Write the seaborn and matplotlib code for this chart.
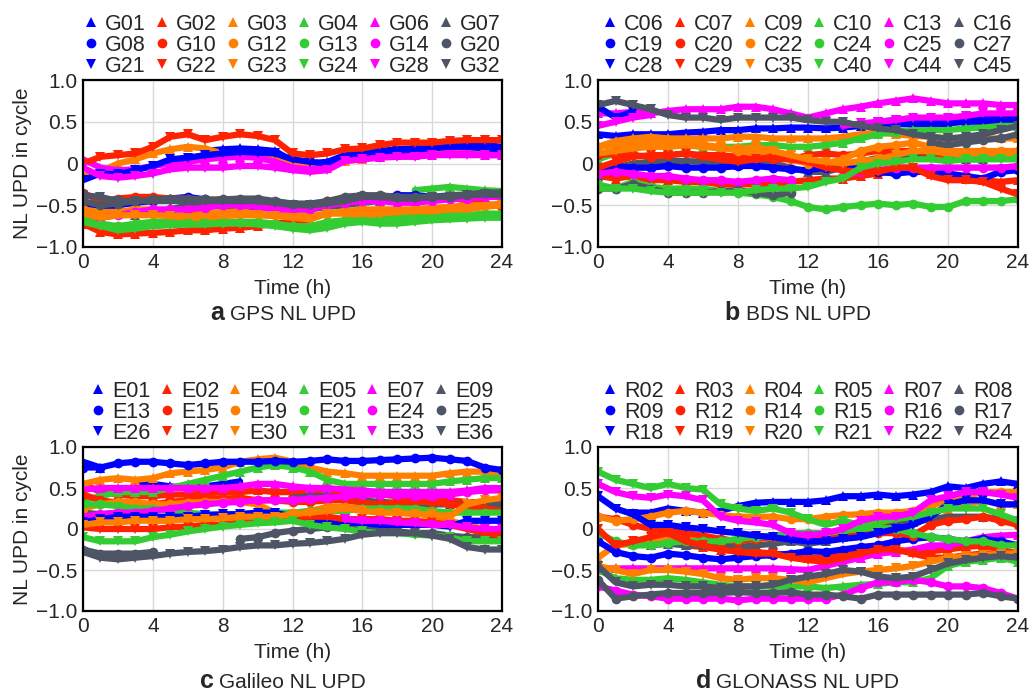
import numpy as np
import pandas as pd
import matplotlib
matplotlib.use("Agg")
import matplotlib.pyplot as plt
from matplotlib.lines import Line2D
import seaborn as sns

# ---------------------------------------------------------------
# DATA (hourly NL UPD values in cycles)
# ---------------------------------------------------------------
nan = np.nan
hours = list(range(25))

# GPS
G01 = [nan, nan, nan, nan, nan, nan, nan, 0.15, 0.17, 0.18, 0.17, 0.15, 0.03, 0.0, 0.02, 0.10, 0.12, 0.15, 0.17, 0.18, 0.18, 0.20, 0.22, 0.22, 0.20]
G02 = [-0.72, -0.82, -0.85, -0.84, -0.83, -0.82, -0.80, -0.80, -0.78, -0.77, -0.75, -0.72, -0.70, -0.70, nan, nan, nan, nan, nan, nan, nan, nan, nan, nan, nan]
G03 = [-0.15, -0.10, 0.0, 0.05, 0.12, 0.17, 0.20, 0.18, 0.12, 0.12, 0.10, 0.05, 0.0, -0.02, 0.0, 0.03, 0.05, 0.08, 0.10, 0.12, 0.12, 0.13, 0.15, 0.15, 0.15]
G04 = [nan, nan, nan, nan, nan, nan, nan, nan, nan, nan, nan, nan, nan, nan, nan, nan, nan, nan, nan, -0.32, -0.30, -0.28, -0.30, -0.32, -0.33]
G06 = [0.05, -0.05, -0.08, -0.07, -0.03, 0.0, 0.02, 0.05, 0.07, 0.08, 0.07, 0.02, -0.05, -0.07, -0.05, 0.05, 0.07, 0.08, 0.10, 0.10, 0.10, 0.12, 0.12, 0.10, 0.10]
G07 = [-0.50, -0.55, -0.60, -0.62, -0.58, -0.55, -0.50, -0.50, -0.50, -0.48, -0.50, -0.52, -0.55, -0.55, -0.52, -0.50, -0.47, -0.45, -0.42, -0.40, -0.40, -0.38, -0.37, -0.35, -0.35]
G08 = [-0.45, -0.55, -0.50, -0.47, -0.45, -0.42, -0.40, -0.43, -0.50, -0.52, -0.55, nan, nan, nan, nan, nan, nan, -0.42, -0.38, -0.38, -0.40, -0.40, nan, nan, nan]
G10 = [-0.35, -0.45, -0.42, -0.40, -0.40, -0.42, -0.42, -0.45, -0.45, -0.45, -0.47, -0.48, -0.50, -0.50, -0.45, -0.43, -0.42, -0.42, -0.45, -0.45, -0.42, -0.40, -0.45, -0.48, -0.52]
G12 = [-0.55, -0.58, -0.58, -0.55, -0.55, -0.57, -0.60, -0.60, -0.58, -0.57, -0.60, -0.62, -0.62, -0.63, -0.60, -0.57, -0.55, -0.55, -0.55, -0.55, -0.53, -0.52, -0.50, -0.50, -0.48]
G13 = [-0.65, -0.72, -0.75, -0.72, -0.70, -0.70, -0.70, -0.70, -0.70, -0.70, -0.70, -0.72, -0.75, -0.75, -0.70, -0.68, -0.67, -0.65, -0.65, -0.63, -0.62, -0.60, -0.62, -0.60, -0.60]
G14 = [-0.60, -0.65, -0.62, -0.58, -0.55, -0.55, -0.55, -0.53, -0.50, -0.50, -0.52, -0.55, -0.55, -0.55, -0.50, -0.47, -0.45, -0.45, -0.47, -0.47, -0.45, -0.43, -0.42, -0.40, -0.40]
G20 = [-0.45, -0.50, -0.48, -0.45, -0.43, -0.42, -0.42, -0.43, -0.43, -0.42, -0.42, -0.45, -0.48, -0.48, -0.45, -0.40, -0.38, -0.38, -0.40, -0.40, -0.40, -0.40, -0.38, -0.35, -0.35]
G21 = [-0.20, -0.12, -0.13, -0.08, -0.03, 0.05, 0.07, 0.10, 0.12, 0.14, 0.13, 0.12, 0.05, 0.02, 0.0, 0.10, 0.12, 0.14, 0.15, 0.17, 0.18, 0.20, 0.20, 0.18, 0.17]
G22 = [0.0, 0.08, 0.10, 0.12, 0.20, 0.32, 0.35, 0.28, 0.32, 0.35, 0.33, 0.28, 0.12, 0.10, 0.12, 0.17, 0.18, 0.22, 0.25, 0.25, 0.25, 0.27, 0.28, 0.28, 0.28]
G23 = [-0.60, -0.65, -0.62, -0.62, -0.62, -0.63, -0.65, -0.65, -0.63, -0.62, -0.62, -0.63, -0.65, -0.67, -0.60, -0.60, -0.62, -0.60, -0.58, -0.57, -0.57, -0.55, -0.55, -0.52, -0.50]
G24 = [-0.70, -0.75, -0.80, -0.78, -0.75, -0.74, -0.73, -0.73, -0.72, -0.72, -0.73, -0.75, -0.78, -0.80, -0.77, -0.72, -0.70, -0.72, -0.72, -0.70, -0.68, -0.67, -0.66, -0.65, -0.65]
G28 = [-0.05, -0.15, -0.17, -0.15, -0.12, -0.07, -0.05, -0.05, -0.05, -0.03, -0.03, -0.05, -0.08, -0.10, -0.08, 0.03, 0.05, 0.07, 0.08, 0.08, 0.10, 0.10, 0.10, 0.10, 0.10]
G32 = [-0.38, -0.40, -0.45, -0.45, -0.45, -0.45, -0.45, -0.45, -0.45, -0.45, -0.45, -0.47, -0.50, -0.50, -0.48, -0.45, -0.40, -0.40, -0.42, -0.42, -0.40, -0.40, -0.38, -0.37, -0.38]

# BDS
C06 = [0.35, 0.33, 0.35, 0.35, 0.35, 0.37, 0.38, 0.40, 0.40, 0.42, 0.42, 0.43, 0.43, 0.42, 0.43, 0.45, 0.45, 0.47, 0.47, 0.45, 0.48, 0.50, 0.50, 0.50, 0.52]
C07 = [-0.15, -0.18, -0.15, -0.20, -0.20, -0.22, -0.22, -0.25, -0.25, -0.25, -0.25, -0.22, -0.20, -0.18, -0.18, -0.15, -0.12, -0.10, -0.08, -0.12, -0.15, -0.18, -0.20, -0.22, -0.20]
C09 = [0.20, 0.27, 0.30, 0.32, 0.30, 0.30, 0.30, 0.30, 0.32, 0.32, 0.30, 0.30, 0.30, 0.30, 0.32, 0.35, 0.37, 0.35, 0.33, 0.32, 0.30, 0.30, 0.30, 0.30, 0.30]
C10 = [0.05, 0.12, 0.20, 0.22, 0.20, 0.22, 0.20, 0.20, 0.20, 0.22, 0.22, 0.20, 0.20, 0.22, 0.25, 0.30, 0.35, 0.38, 0.40, 0.40, 0.40, 0.42, 0.43, 0.45, 0.45]
C13 = [0.60, 0.60, 0.62, 0.60, 0.63, 0.65, 0.65, 0.65, 0.68, 0.68, 0.65, 0.60, 0.55, 0.60, 0.65, 0.68, 0.72, 0.75, 0.78, 0.75, 0.72, 0.72, 0.72, 0.70, 0.70]
C16 = [-0.15, -0.05, 0.0, 0.02, 0.03, 0.03, 0.02, 0.0, -0.02, 0.0, 0.0, -0.05, -0.10, -0.10, -0.05, 0.02, 0.07, 0.10, 0.10, 0.08, 0.05, 0.05, 0.05, 0.08, 0.10]
C19 = [-0.05, -0.03, -0.05, -0.05, -0.03, -0.05, -0.05, -0.05, -0.03, -0.03, -0.05, -0.07, -0.08, -0.05, -0.05, -0.07, -0.10, -0.12, -0.10, -0.10, -0.12, -0.15, -0.18, -0.10, -0.08]
C20 = [0.10, 0.12, 0.10, 0.08, 0.10, 0.12, 0.10, 0.10, 0.08, 0.07, 0.05, 0.05, 0.10, 0.12, 0.10, 0.12, 0.15, 0.15, 0.15, 0.12, 0.10, 0.10, 0.10, 0.08, 0.10]
C22 = [0.20, 0.22, 0.25, 0.27, 0.27, 0.25, 0.22, 0.20, 0.15, 0.12, 0.10, 0.05, 0.0, 0.0, 0.05, 0.15, 0.20, 0.22, 0.25, 0.20, 0.15, 0.15, 0.15, 0.15, 0.15]
C24 = [-0.25, -0.30, -0.22, -0.28, -0.30, -0.30, -0.30, -0.33, -0.35, -0.37, -0.40, -0.45, -0.52, -0.55, -0.52, -0.50, -0.48, -0.50, -0.48, -0.52, -0.52, -0.45, -0.45, -0.45, -0.43]
C25 = [-0.12, -0.10, -0.12, -0.15, -0.15, -0.18, -0.20, -0.20, -0.22, -0.20, -0.18, -0.20, nan, nan, -0.15, -0.10, -0.08, -0.05, -0.05, -0.05, -0.05, -0.05, -0.05, -0.05, -0.03]
C27 = [-0.30, -0.30, -0.25, -0.30, -0.35, -0.35, -0.35, -0.33, -0.32, -0.35, -0.38, -0.35, nan, nan, nan, nan, nan, nan, nan, 0.25, 0.22, 0.25, 0.28, 0.30, 0.35]
C28 = [0.68, 0.55, 0.62, nan, nan, nan, nan, nan, nan, nan, nan, nan, nan, nan, nan, nan, 0.50, 0.52, 0.52, 0.50, 0.52, 0.55, 0.55, 0.57, 0.58]
C29 = [-0.05, 0.02, 0.08, 0.10, 0.10, 0.12, 0.08, 0.05, 0.02, 0.05, 0.08, 0.05, 0.02, -0.05, -0.08, -0.10, -0.10, -0.05, -0.05, -0.15, -0.20, -0.20, -0.22, -0.30, -0.37]
C35 = [0.12, 0.15, 0.18, 0.20, 0.20, 0.22, 0.20, 0.18, 0.17, 0.20, 0.15, 0.10, 0.05, 0.02, 0.0, 0.03, 0.05, 0.10, 0.15, 0.15, 0.12, 0.10, 0.10, 0.10, 0.12]
C40 = [-0.30, -0.30, -0.30, -0.33, -0.35, -0.35, -0.35, -0.35, -0.35, -0.32, -0.30, -0.30, -0.28, -0.22, -0.18, -0.05, 0.0, 0.02, 0.05, 0.05, 0.03, 0.05, 0.05, 0.05, 0.05]
C44 = [0.45, 0.50, 0.55, 0.58, nan, nan, nan, nan, nan, nan, nan, nan, nan, nan, 0.45, 0.48, 0.50, 0.52, 0.55, 0.55, 0.55, 0.57, 0.60, 0.60, 0.60]
C45 = [0.70, 0.75, 0.70, 0.65, 0.58, 0.55, 0.55, 0.52, 0.55, 0.55, 0.55, 0.55, 0.52, 0.50, 0.50, 0.45, 0.42, 0.40, 0.35, 0.32, 0.30, 0.32, 0.35, 0.40, 0.45]

# Galileo
E01 = [0.82, 0.75, nan, 0.55, 0.55, 0.52, 0.50, 0.52, 0.55, 0.58, nan, nan, nan, nan, nan, nan, nan, nan, nan, nan, nan, nan, nan, nan, nan]
E02 = [0.55, 0.45, 0.42, 0.40, 0.40, 0.42, 0.42, 0.43, 0.45, 0.45, 0.47, 0.45, 0.45, 0.45, 0.43, 0.42, 0.42, 0.42, 0.40, 0.38, 0.37, 0.35, 0.33, 0.32, 0.30]
E04 = [0.55, 0.60, 0.62, 0.60, 0.62, 0.68, 0.70, 0.72, 0.75, 0.82, 0.85, 0.87, 0.82, 0.75, 0.70, 0.68, 0.65, 0.65, 0.65, 0.65, 0.65, 0.68, 0.70, 0.70, 0.68]
E05 = [0.35, 0.40, 0.45, 0.45, 0.45, 0.50, 0.55, 0.60, 0.65, 0.70, 0.75, 0.78, 0.75, 0.70, 0.60, 0.55, 0.55, 0.55, 0.55, 0.55, 0.55, 0.58, 0.60, 0.62, 0.62]
E07 = [0.48, 0.50, 0.50, 0.50, 0.50, 0.50, 0.50, 0.50, 0.50, 0.52, 0.55, 0.55, 0.52, 0.50, 0.50, 0.48, 0.47, 0.45, 0.45, 0.45, 0.45, 0.45, 0.47, 0.50, 0.50]
E09 = [0.20, 0.18, 0.20, 0.20, 0.22, nan, nan, nan, nan, nan, nan, nan, 0.38, 0.40, 0.40, 0.38, 0.35, 0.33, 0.32, 0.30, 0.30, 0.30, 0.30, 0.30, 0.30]
E13 = [0.75, 0.75, 0.80, 0.82, 0.82, 0.80, 0.78, 0.80, 0.82, 0.82, 0.82, 0.83, 0.82, 0.83, 0.85, 0.83, 0.83, 0.84, 0.85, 0.86, 0.87, 0.85, 0.83, 0.75, 0.72]
E15 = [0.42, 0.35, 0.32, 0.30, 0.30, 0.33, 0.35, 0.37, 0.37, 0.38, 0.35, 0.35, 0.33, 0.33, 0.35, 0.35, 0.32, 0.30, 0.32, 0.33, 0.33, 0.30, 0.28, 0.25, 0.22]
E19 = [0.25, 0.30, 0.33, 0.33, 0.30, 0.30, 0.32, 0.33, 0.33, 0.33, 0.30, 0.20, 0.18, 0.22, 0.27, 0.27, 0.25, 0.22, 0.20, 0.20, 0.15, 0.10, 0.05, 0.0, -0.02]
E21 = [0.30, 0.30, 0.28, 0.25, 0.25, 0.22, 0.20, 0.18, 0.17, 0.18, 0.20, 0.20, 0.20, 0.22, 0.22, 0.22, 0.25, 0.25, 0.25, 0.25, 0.22, 0.20, 0.20, 0.20, 0.20]
E24 = [0.15, 0.18, 0.20, 0.20, 0.22, 0.25, 0.28, 0.30, 0.32, 0.33, 0.35, 0.35, 0.35, 0.37, 0.38, 0.40, 0.42, 0.42, 0.42, 0.40, 0.40, 0.42, 0.45, 0.47, 0.47]
E25 = [-0.25, -0.30, -0.30, -0.30, -0.28, nan, nan, nan, nan, -0.12, -0.10, -0.05, -0.02, 0.0, 0.02, 0.03, 0.0, -0.02, -0.03, -0.05, -0.05, -0.08, -0.10, -0.10, -0.10]
E26 = [0.08, 0.12, 0.15, 0.15, 0.15, 0.15, 0.15, 0.17, 0.18, 0.18, 0.20, 0.20, 0.15, 0.10, 0.08, 0.08, 0.07, 0.05, 0.05, 0.05, 0.05, 0.03, 0.10, 0.10, 0.10]
E27 = [0.02, 0.0, 0.0, 0.0, 0.0, 0.02, 0.03, 0.05, 0.05, 0.08, 0.10, 0.10, 0.12, 0.15, 0.15, 0.12, 0.12, 0.12, 0.10, 0.10, 0.08, 0.05, 0.0, -0.05, -0.08]
E30 = [0.05, 0.08, 0.08, 0.10, 0.10, 0.10, 0.12, 0.12, 0.13, 0.15, 0.15, 0.15, 0.18, 0.20, 0.22, 0.25, 0.22, 0.20, 0.20, 0.18, 0.18, 0.15, 0.30, 0.35, 0.38]
E31 = [-0.10, -0.15, -0.15, -0.15, -0.10, -0.07, -0.03, 0.0, 0.03, 0.05, 0.07, 0.08, 0.10, 0.05, 0.02, 0.0, -0.03, -0.05, -0.05, -0.07, -0.08, -0.10, -0.15, -0.15, -0.15]
E33 = [nan, nan, nan, nan, nan, nan, nan, nan, nan, nan, nan, nan, nan, nan, nan, 0.12, 0.10, 0.10, 0.08, 0.07, 0.05, 0.05, 0.02, 0.0, 0.0]
E36 = [-0.28, -0.35, -0.37, -0.35, -0.33, -0.30, -0.28, -0.27, -0.25, -0.22, -0.20, -0.20, -0.18, -0.17, -0.15, -0.12, -0.07, -0.05, -0.05, -0.05, -0.08, -0.12, -0.22, -0.25, -0.25]

# GLONASS
R02 = [nan, nan, 0.20, 0.20, 0.25, 0.22, 0.20, 0.22, 0.28, 0.32, 0.33, 0.33, 0.33, 0.35, 0.40, 0.40, 0.42, 0.40, 0.42, 0.45, 0.52, 0.50, 0.55, 0.58, 0.55]
R03 = [nan, nan, -0.15, -0.12, -0.15, -0.20, -0.22, -0.25, -0.27, -0.28, -0.30, -0.32, -0.35, -0.35, -0.30, -0.25, -0.22, -0.25, -0.28, -0.27, -0.25, -0.22, -0.20, -0.25, -0.30]
R04 = [-0.35, -0.20, -0.18, -0.15, -0.10, -0.10, -0.12, -0.12, -0.15, -0.12, -0.10, -0.12, -0.15, -0.10, -0.05, 0.0, 0.05, 0.10, 0.15, 0.20, 0.25, 0.30, 0.35, 0.30, 0.30]
R05 = [-0.50, -0.60, -0.62, -0.62, -0.60, -0.62, -0.65, -0.68, -0.70, -0.70, -0.70, -0.70, -0.70, -0.72, -0.70, -0.68, -0.67, -0.65, -0.65, -0.60, -0.45, -0.40, -0.38, -0.35, -0.40]
R07 = [-0.48, -0.48, -0.48, -0.48, -0.48, -0.48, -0.48, -0.48, -0.48, -0.48, -0.48, -0.49, -0.50, -0.45, -0.40, -0.35, -0.30, -0.28, -0.25, -0.20, -0.20, -0.15, -0.10, -0.08, -0.07]
R08 = [nan, nan, nan, -0.20, -0.18, -0.20, -0.20, -0.20, -0.22, -0.20, -0.18, -0.15, -0.18, -0.15, -0.10, -0.05, 0.0, 0.05, 0.08, 0.12, 0.15, 0.15, 0.15, 0.12, 0.10]
R09 = [-0.15, -0.28, -0.33, -0.35, -0.30, -0.32, -0.35, -0.37, -0.35, -0.33, -0.32, -0.30, -0.27, -0.28, -0.25, -0.22, -0.20, -0.15, -0.12, -0.10, -0.12, -0.15, -0.12, -0.15, -0.20]
R12 = [0.15, 0.12, 0.05, 0.0, -0.02, -0.05, -0.08, -0.12, -0.15, -0.12, -0.10, -0.10, -0.10, -0.08, -0.05, -0.05, -0.05, -0.05, -0.08, 0.05, 0.10, 0.12, 0.15, 0.10, 0.05]
R14 = [0.15, 0.10, 0.12, 0.15, 0.20, 0.22, 0.20, 0.17, 0.15, 0.15, 0.15, 0.12, 0.12, 0.15, 0.17, 0.18, 0.20, 0.20, 0.22, 0.28, 0.35, 0.40, 0.45, 0.45, 0.45]
R15 = [-0.05, -0.15, -0.20, -0.20, -0.17, -0.15, -0.15, -0.15, -0.12, -0.10, -0.08, -0.05, -0.05, -0.05, -0.02, 0.0, 0.02, 0.0, -0.05, -0.10, -0.12, -0.15, -0.15, -0.20, -0.20]
R16 = [-0.70, -0.75, -0.80, -0.82, -0.85, -0.85, -0.85, -0.85, -0.87, -0.85, -0.85, -0.85, -0.85, -0.85, -0.80, -0.72, -0.65, -0.65, -0.62, -0.65, -0.70, -0.70, -0.72, -0.78, -0.85]
R17 = [-0.62, -0.85, -0.82, -0.80, -0.78, -0.78, -0.78, -0.78, -0.77, -0.78, -0.78, -0.77, -0.80, -0.80, -0.82, -0.85, -0.80, -0.80, -0.80, -0.80, -0.80, -0.80, -0.78, -0.82, -0.85]
R18 = [0.40, 0.25, 0.18, 0.05, 0.05, 0.02, 0.0, -0.03, -0.05, -0.08, -0.10, -0.13, -0.15, -0.15, -0.12, -0.10, -0.05, 0.0, 0.05, 0.15, 0.30, 0.35, 0.35, 0.30, 0.30]
R19 = [0.0, -0.20, -0.15, -0.10, -0.05, -0.15, -0.20, -0.25, -0.28, -0.30, -0.30, -0.35, -0.38, -0.40, -0.35, -0.30, -0.25, -0.25, -0.30, -0.35, -0.35, -0.32, -0.30, -0.30, -0.30]
R20 = [-0.45, -0.50, -0.55, -0.50, -0.50, -0.52, -0.55, -0.60, -0.62, -0.60, -0.60, -0.62, -0.65, -0.60, -0.55, -0.52, -0.50, -0.48, -0.45, -0.40, -0.35, -0.33, -0.32, -0.30, -0.30]
R21 = [0.70, 0.60, 0.55, 0.50, 0.55, 0.50, 0.48, 0.30, 0.25, 0.22, 0.25, 0.20, 0.12, 0.05, 0.10, 0.05, 0.10, 0.12, 0.15, 0.20, 0.25, 0.25, 0.25, 0.18, 0.10]
R22 = [0.55, 0.45, 0.40, 0.38, 0.42, 0.40, 0.35, 0.15, 0.10, 0.08, 0.05, -0.05, -0.08, -0.05, 0.0, 0.10, 0.15, 0.15, 0.20, 0.35, 0.40, 0.45, 0.45, 0.42, 0.38]
R24 = [-0.45, -0.65, -0.70, -0.68, -0.68, -0.70, -0.70, -0.72, -0.70, -0.70, -0.68, -0.62, -0.58, -0.55, -0.50, -0.52, -0.58, -0.60, -0.58, -0.50, -0.42, -0.38, -0.35, -0.33, -0.35]

# legend order: row 1 = triangles up, row 2 = circles, row 3 = triangles down
gps_names = ["G01", "G02", "G03", "G04", "G06", "G07", "G08", "G10", "G12", "G13", "G14", "G20", "G21", "G22", "G23", "G24", "G28", "G32"]
gps_vals = [G01, G02, G03, G04, G06, G07, G08, G10, G12, G13, G14, G20, G21, G22, G23, G24, G28, G32]
bds_names = ["C06", "C07", "C09", "C10", "C13", "C16", "C19", "C20", "C22", "C24", "C25", "C27", "C28", "C29", "C35", "C40", "C44", "C45"]
bds_vals = [C06, C07, C09, C10, C13, C16, C19, C20, C22, C24, C25, C27, C28, C29, C35, C40, C44, C45]
gal_names = ["E01", "E02", "E04", "E05", "E07", "E09", "E13", "E15", "E19", "E21", "E24", "E25", "E26", "E27", "E30", "E31", "E33", "E36"]
gal_vals = [E01, E02, E04, E05, E07, E09, E13, E15, E19, E21, E24, E25, E26, E27, E30, E31, E33, E36]
glo_names = ["R02", "R03", "R04", "R05", "R07", "R08", "R09", "R12", "R14", "R15", "R16", "R17", "R18", "R19", "R20", "R21", "R22", "R24"]
glo_vals = [R02, R03, R04, R05, R07, R08, R09, R12, R14, R15, R16, R17, R18, R19, R20, R21, R22, R24]

panel_letters = ["a", "b", "c", "d"]
panel_titles = ["GPS NL UPD", "BDS NL UPD", "Galileo NL UPD", "GLONASS NL UPD"]
x_ticks = [0, 4, 8, 12, 16, 20, 24]
y_ticks = [-1.0, -0.5, 0.0, 0.5, 1.0]
y_ticklabels = ["\u22121.0", "\u22120.5", "0", "0.5", "1.0"]

# ---------------------------------------------------------------
# STYLE
# ---------------------------------------------------------------
colors = ["#0000ff", "#ff2200", "#ff8000", "#33cc33", "#ff00ff", "#4d5566"]
markers = ["^", "o", "v"]

sns.set_style("white")
plt.rcParams["font.family"] = ["Liberation Sans", "DejaVu Sans"]
plt.rcParams["axes.unicode_minus"] = True

fig = plt.figure(figsize=(10.32, 6.93), dpi=100)
W, H = 1032, 693
# axes boxes in pixels: left, top, right, bottom
boxes = [(83, 80, 502, 247), (598, 80, 1018, 247), (83, 447, 502, 611), (598, 447, 1018, 611)]
# caption centre, pixels below the axes bottom
cap_offsets = [68, 68, 72, 72]
panels = [(gps_names, gps_vals), (bds_names, bds_vals), (gal_names, gal_vals), (glo_names, glo_vals)]

for k, ((names, vals), box) in enumerate(zip(panels, boxes)):
    l, t, r, b = box
    ax = fig.add_axes([l / W, 1 - b / H, (r - l) / W, (b - t) / H])

    for i, v in enumerate(vals):
        df = pd.DataFrame({"t": hours, "v": np.array(v, dtype=float)})
        df["seg"] = df["v"].isna().cumsum()
        df = df.dropna()
        sns.lineplot(data=df, x="t", y="v", units="seg", estimator=None,
                     color=colors[i % 6], marker=markers[i // 6], markersize=7,
                     markeredgewidth=0, linewidth=4.5, legend=False, ax=ax)

    ax.set_xlim(0, 24)
    ax.set_ylim(-1, 1)
    ax.set_xticks(x_ticks)
    ax.set_yticks(y_ticks)
    ax.set_yticklabels(y_ticklabels)
    ax.grid(True, color="#d9d9d9", linewidth=1)
    ax.set_axisbelow(True)
    ax.tick_params(direction="in", length=5, width=1.2, labelsize=15, pad=4, color="black")
    for s in ax.spines.values():
        s.set_color("black")
        s.set_linewidth(1.6)
    ax.set_xlabel("Time (h)", fontsize=15, labelpad=5)
    if k % 2 == 0:
        ax.set_ylabel("NL UPD in cycle", fontsize=15, labelpad=3)
    else:
        ax.set_ylabel("")

    # legend: 3 rows x 6 columns, filled row by row
    handles = [Line2D([], [], linestyle="none", marker=markers[i // 6], color=colors[i % 6],
                      markersize=7, markeredgewidth=0) for i in range(18)]
    order = [r_ * 6 + c_ for c_ in range(6) for r_ in range(3)]
    ax.legend([handles[j] for j in order], [names[j] for j in order],
              ncol=6, loc="lower center", bbox_to_anchor=(0.5, 1.02), frameon=False,
              fontsize=15.5, handlelength=0.6, handletextpad=0.35, columnspacing=0.45,
              labelspacing=0.0, borderpad=0, borderaxespad=0)

    # caption below the axes
    cap_y = -cap_offsets[k] / (b - t)
    cap = ax.text(0.5, cap_y, panel_titles[k], transform=ax.transAxes,
                  ha="center", va="center", fontsize=15)
    ax.annotate(panel_letters[k], xy=(0, 0), xycoords=cap, xytext=(-4, 0),
                textcoords="offset points", ha="right", va="bottom",
                fontsize=18, fontweight="bold")

fig.savefig("out.png", dpi=100)
